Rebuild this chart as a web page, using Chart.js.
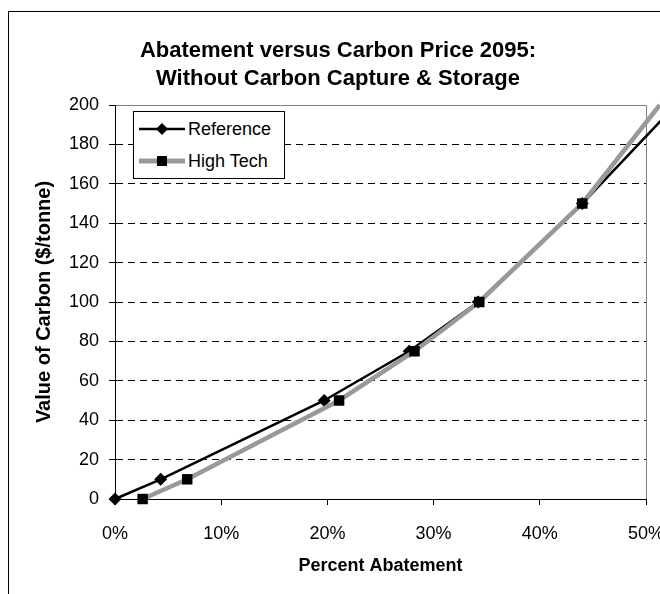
<!DOCTYPE html>
<html>
<head>
<meta charset="utf-8">
<script src="https://cdn.jsdelivr.net/npm/chart.js@4.4.0/dist/chart.umd.min.js"></script>
<style>
    html, body { margin: 0; padding: 0; background: #fff; overflow: hidden; }
    body { width: 660px; height: 594px; position: relative; font-family: "Liberation Sans", Arial, sans-serif; }
    #moldura { position: absolute; left: 8px; top: 11px; width: 700px; height: 650px; border-left: 1px solid #000; border-top: 1px solid #000; }
    #titulo { position: absolute; left: 138px; width: 400px; top: 36px; text-align: center; font-weight: bold; font-size: 22px; line-height: 28px; color: #000; }
    #grafico { position: absolute; left: 0; top: 0; }
    #legenda { position: absolute; left: 133px; top: 111px; width: 150px; height: 66px; border: 1px solid #000; background: #fff; }
    .item { position: absolute; left: 0; height: 24px; font-size: 18px; line-height: 24px; color: #000; }
    .item svg { position: absolute; left: 5px; top: 0; }
    .item span { position: absolute; left: 54px; white-space: nowrap; }
</style>
</head>
<body>
<div id="moldura"></div>
<canvas id="grafico" width="660" height="594"></canvas>
<div id="titulo">Abatement versus Carbon Price 2095:<br>Without Carbon Capture &amp; Storage</div>
<div id="legenda">
    <div class="item" style="top:5px">
        <svg width="48" height="24"><line x1="0" y1="12" x2="46" y2="12" stroke="#000" stroke-width="2.5"/><polygon points="23,6 29,12 23,18 17,12" fill="#000"/></svg>
        <span>Reference</span>
    </div>
    <div class="item" style="top:37px">
        <svg width="48" height="24"><line x1="0" y1="12" x2="46" y2="12" stroke="#999" stroke-width="5"/><rect x="18" y="7" width="10" height="10" fill="#000"/></svg>
        <span>High Tech</span>
    </div>
</div>
<script>
// percent abatement (x) against carbon value (y)
const valoresCarbono = [0, 10, 50, 75, 100, 150, 200];
const abatReferencia = [0, 4.3, 19.7, 27.7, 34.2, 44.0, 52.8];
const abatHighTech = [2.6, 6.8, 21.1, 28.2, 34.3, 44.0, 51.3];
const ticksX = [0, 10, 20, 30, 40, 50];
const ticksY = [0, 20, 40, 60, 80, 100, 120, 140, 160, 180, 200];

const fonte = "'Liberation Sans', Arial, sans-serif";

function pontos(xs, ys) {
    return xs.map((x, i) => ({ x: x, y: ys[i] }));
}

// markers beyond the axis end are off the picture
function raio(r) {
    return ctx => (ctx.raw && ctx.raw.x > 50 ? 0 : r);
}

const grafico = new Chart(document.getElementById('grafico'), {
    type: 'scatter',
    data: {
        datasets: [{
            label: 'Reference',
            data: pontos(abatReferencia, valoresCarbono),
            showLine: true,
            borderColor: '#000',
            backgroundColor: '#000',
            borderWidth: 2.5,
            pointStyle: 'rectRot',
            pointRadius: raio(6.5),
            pointBorderWidth: 0,
            clip: false,
            order: 1
        }, {
            label: 'High Tech',
            data: pontos(abatHighTech, valoresCarbono),
            showLine: true,
            borderColor: '#999999',
            backgroundColor: '#000',
            borderWidth: 4.5,
            pointStyle: 'rect',
            pointRadius: raio(7.4),
            pointBorderWidth: 0,
            clip: false,
            order: 0
        }]
    },
    options: {
        responsive: false,
        animation: false,
        events: [],
        layout: { padding: { top: 105, right: 14, bottom: 0, left: 0 } },
        plugins: {
            legend: { display: false },
            tooltip: { enabled: false }
        },
        scales: {
            x: {
                type: 'linear',
                min: 0,
                max: 50,
                afterBuildTicks: s => { s.ticks = ticksX.map(v => ({ value: v })); },
                afterFit: s => { s.height = 95; s.paddingLeft = 0; s.paddingRight = 0; },
                ticks: {
                    callback: v => v + '%',
                    color: '#000',
                    font: { family: fonte, size: 18 },
                    padding: 18,
                    maxRotation: 0
                },
                grid: {
                    color: c => (c.tick && c.tick.value === 50 ? '#808080' : 'rgba(0,0,0,0)'),
                    tickColor: '#000',
                    tickLength: 6,
                    lineWidth: 1
                },
                border: { color: '#000', width: 1 },
                title: {
                    display: true,
                    text: 'Percent Abatement',
                    color: '#000',
                    font: { family: fonte, size: 18, weight: 'bold' },
                    padding: { top: 4, bottom: 17 }
                }
            },
            y: {
                min: 0,
                max: 200,
                afterBuildTicks: s => { s.ticks = ticksY.map(v => ({ value: v })); },
                afterFit: s => { s.width = 115; s.paddingTop = 0; s.paddingBottom = 0; },
                ticks: {
                    color: '#000',
                    font: { family: fonte, size: 18 },
                    padding: 10
                },
                grid: {
                    color: c => {
                        if (!c.tick) return '#000';
                        if (c.tick.value === 0) return 'rgba(0,0,0,0)';
                        if (c.tick.value === 200) return '#808080';
                        return '#000';
                    },
                    tickColor: '#000',
                    tickLength: 6,
                    lineWidth: 1
                },
                border: {
                    color: '#000',
                    width: 1,
                    dash: c => (c.tick && c.tick.value === 200 ? [] : [7, 5])
                },
                title: {
                    display: true,
                    text: 'Value of Carbon ($/tonne)',
                    color: '#000',
                    font: { family: fonte, size: 20, weight: 'bold' },
                    padding: { top: 32, bottom: 4 }
                }
            }
        }
    }
});
</script>
</body>
</html>
